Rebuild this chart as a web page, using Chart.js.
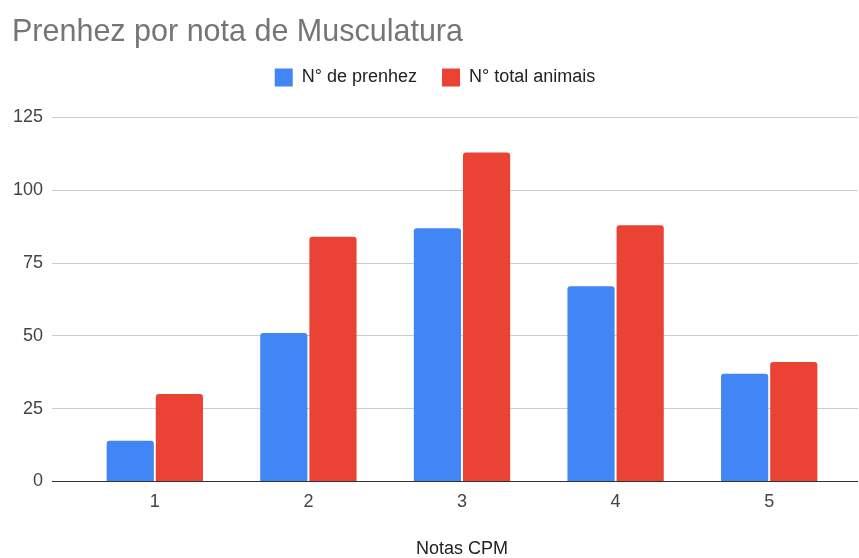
<!DOCTYPE html>
<html>
<head>
<meta charset="utf-8">
<script src="https://cdn.jsdelivr.net/npm/chart.js@4/dist/chart.umd.min.js"></script>
<style>
html,body{margin:0;padding:0;background:#fff;}
#wrap{width:859px;height:558px;position:relative;}
</style>
</head>
<body>
<div id="wrap"><canvas id="c" width="859" height="558"></canvas></div>
<script>
const chartTitle = "Prenhez por nota de Musculatura";
const categories = ["1", "2", "3", "4", "5"];
const seriesNames = ["N° de prenhez", "N° total animais"];
const prenhez = [14, 51, 87, 67, 37];
const totalAnimais = [30, 84, 113, 88, 41];
const yTicks = [0, 25, 50, 75, 100, 125];
const xAxisTitle = "Notas CPM";

const FONT = "'Liberation Sans', Arial, sans-serif";
const gridCol = (ctx) => (ctx.tick && ctx.tick.value === 0) ? '#333333' : '#cccccc';

new Chart(document.getElementById('c'), {
  type: 'bar',
  data: {
    labels: categories,
    datasets: [
      { label: seriesNames[0], data: prenhez, backgroundColor: '#4285f4', borderWidth: 0,
        borderRadius: 3, borderSkipped: 'start', categoryPercentage: 0.64, barPercentage: 0.96 },
      { label: seriesNames[1], data: totalAnimais, backgroundColor: '#ea4335', borderWidth: 0,
        borderRadius: 3, borderSkipped: 'start', categoryPercentage: 0.64, barPercentage: 0.96 }
    ]
  },
  options: {
    responsive: false,
    animation: false,
    devicePixelRatio: 1,
    layout: { padding: { left: 12, right: 1, top: 0, bottom: 0 } },
    plugins: {
      title: {
        display: true, text: chartTitle, align: 'start', color: '#757575',
        font: { family: FONT, size: 30.5, weight: 'normal', lineHeight: 1.0 },
        padding: { top: 17, bottom: -4 }
      },
      legend: {
        display: true, position: 'top', align: 'center',
        labels: {
          color: '#222222', font: { family: FONT, size: 18 },
          boxWidth: 18, boxHeight: 18, padding: 25
        }
      },
      tooltip: { enabled: false }
    },
    scales: {
      x: {
        type: 'category',
        grid: { display: false, drawTicks: false },
        border: { display: false },
        ticks: { color: '#444444', font: { family: FONT, size: 18 }, padding: 10 },
        title: { display: true, text: xAxisTitle, color: '#222222', font: { family: FONT, size: 18, lineHeight: 1.0 }, padding: { top: 17, bottom: 0 } }
      },
      xTop: {
        type: 'category',
        position: 'top',
        grid: { display: true, drawOnChartArea: false, drawTicks: true, tickLength: 21, tickColor: 'rgba(0,0,0,0)' },
        border: { display: false },
        ticks: { display: false }
      },
      y: {
        position: 'left',
        min: 0, max: 125,
        afterBuildTicks: (s) => { s.ticks = yTicks.map(v => ({ value: v })); },
        afterFit: (s) => { s.width = 66; },
        grid: { color: gridCol, lineWidth: 1, drawTicks: true, tickLength: 26, tickColor: gridCol },
        border: { display: false },
        ticks: { color: '#444444', font: { family: FONT, size: 18 }, padding: 9 }
      },
      y2: {
        position: 'right',
        min: 0, max: 125,
        afterBuildTicks: (s) => { s.ticks = yTicks.map(v => ({ value: v })); },
        grid: { drawOnChartArea: false, drawTicks: true, tickLength: 12, tickColor: gridCol },
        border: { display: false },
        ticks: { display: false }
      }
    }
  }
});
</script>
</body>
</html>
